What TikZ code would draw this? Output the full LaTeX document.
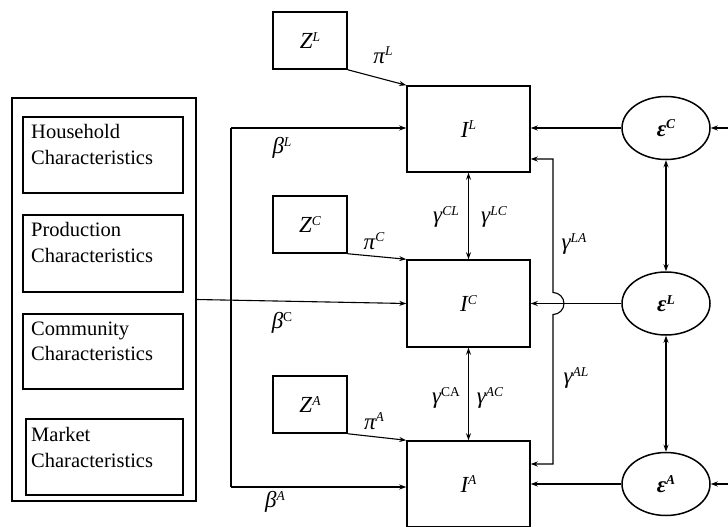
\documentclass[tikz,border=0pt]{standalone}
\usepackage{fontspec}
\setmainfont{Liberation Serif}
\usetikzlibrary{shapes.geometric,arrows.meta}
\newcommand\sups[1]{\raisebox{0.33em}{\fontsize{13.5}{13.5}\selectfont #1}}
\begin{document}
\begin{tikzpicture}[x=1pt,y=-1pt,
  bx/.style={draw,line width=1.5pt,inner sep=0pt},
  elp/.style={draw,ellipse,line width=1.5pt,minimum width=88pt,minimum height=63pt,inner sep=0pt},
  lbl/.style={font=\fontsize{23}{23}\selectfont\itshape,inner sep=0pt},
  txt/.style={font=\fontsize{20.5}{25.5}\selectfont,align=left,anchor=north west,inner sep=0pt},
  ln/.style={line width=1.1pt},
  arr/.style={ln,-{Stealth[length=7pt,width=5pt]}},
  darr/.style={ln,{Stealth[length=7pt,width=5pt]}-{Stealth[length=7pt,width=5pt]}}]
\useasboundingbox (0,0) rectangle (728,527);
% left block
\node[bx,minimum width=184pt,minimum height=403pt] (outer) at (104,299.5) {};
\node[bx,minimum width=160pt,minimum height=76pt,anchor=north west] (hh) at (22,116) {};
\node[bx,minimum width=160pt,minimum height=77pt,anchor=north west] (pr) at (22,214) {};
\node[bx,minimum width=160pt,minimum height=75pt,anchor=north west] (cm) at (22,313) {};
\node[bx,minimum width=157pt,minimum height=76pt,anchor=north west] (mk) at (25,418) {};
\node[txt] (hht) at (31,124.5) {Household\\Characteristics};
\node[txt] (prt) at (31,222.5) {Production\\Characteristics};
\node[txt] (cmt) at (31,321.5) {Community\\Characteristics};
\node[txt] (mkt) at (31,427.5) {Market\\Characteristics};
% Z boxes
\node[bx,minimum width=74pt,minimum height=57pt,lbl] (ZL) at (310,40.5) {Z\sups{L}};
\node[bx,minimum width=74pt,minimum height=57pt,lbl] (ZC) at (310,224.5) {Z\sups{C}};
\node[bx,minimum width=74pt,minimum height=57pt,lbl] (ZA) at (310,404.5) {Z\sups{A}};
% I boxes
\node[bx,minimum width=123pt,minimum height=86pt,lbl] (IL) at (468.5,129) {I\sups{L}};
\node[bx,minimum width=123pt,minimum height=87pt,lbl] (IC) at (468.5,303.5) {I\sups{C}};
\node[bx,minimum width=123pt,minimum height=86pt,lbl] (IA) at (468.5,484) {I\sups{A}};
% ellipses
\node[elp,lbl] (eC) at (666,128) {\bfseries ε\sups{C}};
\node[elp,lbl] (eL) at (666,303.5) {\bfseries ε\sups{L}};
\node[elp,lbl] (eA) at (666,484) {\bfseries ε\sups{A}};
% beta connectors
\coordinate (vtop) at (231,128);
\coordinate (vbot) at (231,487);
\draw[ln] (vtop) -- (vbot);
\draw[arr] (vtop) -- (vtop -| IL.west);
\draw[arr] (vbot) -- (vbot -| IA.west);
\draw[arr] (outer.east) -- (IC.west);
% pi connectors
\draw[arr] (ZL.south east) -- (IL.north west);
\draw[arr] (ZC.south east) -- (IC.north west);
\draw[arr] (ZA.south east) -- (IA.north west);
% gamma between I boxes
\draw[darr] (IL.south) -- (IC.north);
\draw[darr] (IC.south) -- (IA.north);
% feedback with jump
\coordinate (fb1) at (553,159);
\coordinate (fb2) at (553,464);
\draw[darr] (fb1 -| IL.east) -- (fb1) -- (553,292.5) arc[start angle=90,end angle=-90,radius=11pt] -- (fb2) -- (fb2 -| IA.east);
% epsilon connectors
\draw[arr] (eC.west) -- (eC.west -| IL.east);
\draw[arr] (eL.west) -- (IC.east);
\draw[arr] (eA.west) -- (eA.west -| IA.east);
\coordinate (rC) at (728,128);
\coordinate (rA) at (728,484);
\draw[arr] (rC) -- (eC.east);
\draw[arr] (rA) -- (eA.east);
\draw[darr] (eC.south) -- (eL.north);
\draw[darr] (eL.south) -- (eA.north);
% labels
\node[lbl] (piL) at (383,55) {π\sups{L}};
\node[lbl] (piC) at (374,241) {π\sups{C}};
\node[lbl] (piA) at (374,421) {π\sups{A}};
\node[lbl] (bL) at (282,148) {β\sups{L}};
\node[lbl] (bC) at (282,323) {β\sups{\upshape C}};
\node[lbl] (bA) at (275,502) {β\sups{A}};
\node[lbl] (gCL) at (446,217) {γ\sups{CL}};
\node[lbl] (gLC) at (494,217) {γ\sups{LC}};
\node[lbl] (gCA) at (446,398) {γ\sups{\upshape CA}};
\node[lbl] (gAC) at (490,398) {γ\sups{AC}};
\node[lbl] (gLA) at (574,244) {γ\sups{LA}};
\node[lbl] (gAL) at (576,378) {γ\sups{AL}};
\end{tikzpicture}
\end{document}
